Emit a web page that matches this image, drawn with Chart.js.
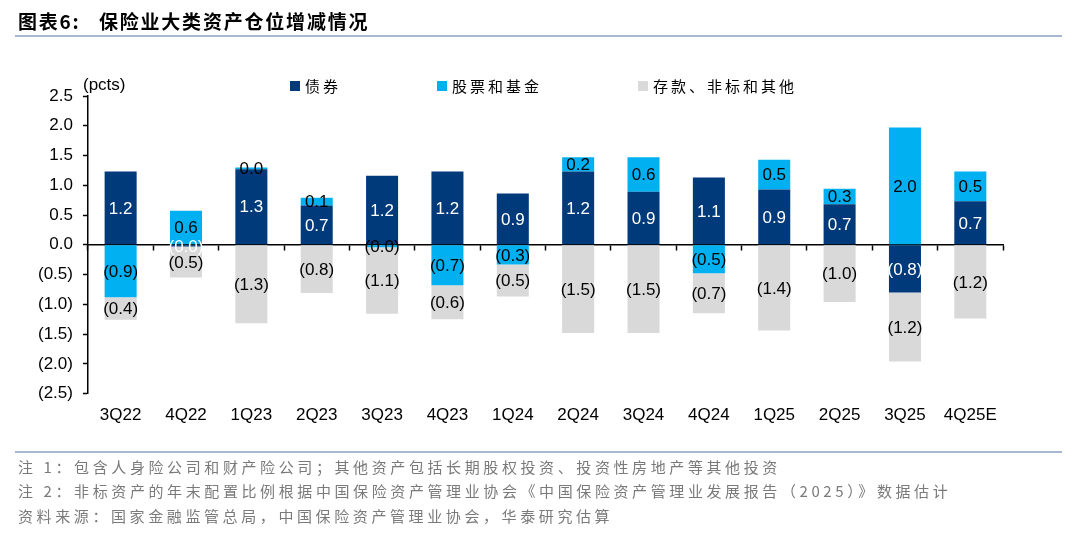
<!DOCTYPE html>
<html lang="zh">

<head>
    <meta charset="UTF-8">
    <title>保险业大类资产仓位增减情况</title>
    <script src="https://cdn.jsdelivr.net/npm/chart.js@4.4.1/dist/chart.umd.min.js"></script>
    <style>
        body {
            margin: 0;
            width: 1080px;
            height: 536px;
            background: #fff;
            position: relative;
            overflow: hidden;
            font-family: "Liberation Sans", Arial, "Noto Sans CJK SC", sans-serif;
        }

        #chartBox {
            position: absolute;
            left: 0;
            top: 0;
            width: 1080px;
            height: 536px;
        }

        .title {
            position: absolute;
            left: 18px;
            top: 7px;
            font-family: "Noto Sans CJK SC", sans-serif;
            font-weight: bold;
            font-size: 19px;
            letter-spacing: 1.8px;
            color: #000;
        }

        .rule {
            position: absolute;
            left: 15px;
            width: 1047px;
            height: 2px;
            background: #a7b9d0;
        }

        .note {
            position: absolute;
            left: 18px;
            font-family: "Noto Sans CJK SC", sans-serif;
            font-size: 15px;
            letter-spacing: 3.6px;
            color: #7a7a7a;
            white-space: nowrap;
        }
    </style>
</head>

<body>
    <div id="chartBox"><canvas id="canvas" width="1080" height="536"></canvas></div>
    <div class="title">图表6:&nbsp;&nbsp;&nbsp;保险业大类资产仓位增减情况</div>
    <div class="rule" style="top:35px"></div>
    <div class="rule" style="top:451px"></div>
    <div class="note" style="top:456px">注 1：包含人身险公司和财产险公司；其他资产包括长期股权投资、投资性房地产等其他投资</div>
    <div class="note" style="top:480px">注 2：非标资产的年末配置比例根据中国保险资产管理业协会《中国保险资产管理业发展报告（2025）》数据估计</div>
    <div class="note" style="top:505px">资料来源：国家金融监管总局，中国保险资产管理业协会，华泰研究估算</div>

    <script>
        // data (pcts)
        const quarters = ['3Q22', '4Q22', '1Q23', '2Q23', '3Q23', '4Q23', '1Q24', '2Q24', '3Q24', '4Q24', '1Q25', '2Q25', '3Q25', '4Q25E'];
        const bonds = [1.23, -0.03, 1.27, 0.66, 1.16, 1.23, 0.86, 1.23, 0.89, 1.13, 0.93, 0.68, -0.80, 0.73];
        const stocks = [-0.88, 0.57, 0.03, 0.13, -0.04, -0.68, -0.33, 0.24, 0.58, -0.48, 0.50, 0.26, 1.97, 0.50];
        const others = [-0.38, -0.52, -1.32, -0.81, -1.12, -0.57, -0.54, -1.48, -1.48, -0.67, -1.44, -0.96, -1.16, -1.24];
        const seriesNames = ['债券', '股票和基金', '存款、非标和其他'];
        const seriesColors = ['#003a7a', '#00b0f0', '#d9d9d9'];
        const labelColors = ['#ffffff', '#000000', '#000000'];

        function fmt(v) {
            return v < 0 ? '(' + Math.abs(v).toFixed(1) + ')' : v.toFixed(1);
        }

        // numbers in the middle of each segment
        const valueLabels = {
            id: 'valueLabels',
            afterDatasetsDraw(chart) {
                const ctx = chart.ctx;
                ctx.save();
                ctx.font = '17px "Liberation Sans", Arial, sans-serif';
                ctx.textAlign = 'center';
                ctx.textBaseline = 'middle';
                chart.data.datasets.forEach((ds, i) => {
                    const meta = chart.getDatasetMeta(i);
                    meta.data.forEach((bar, j) => {
                        const v = ds.data[j];
                        if (v === null || v === undefined) return;
                        ctx.fillStyle = labelColors[i];
                        ctx.fillText(fmt(v), bar.x, (bar.y + bar.base) / 2 + 1);
                    });
                });
                ctx.restore();
            }
        };

        // unit text and the legend row at the top
        const topTexts = {
            id: 'topTexts',
            afterDraw(chart) {
                const ctx = chart.ctx;
                ctx.save();
                ctx.textBaseline = 'middle';
                ctx.fillStyle = '#000';
                ctx.font = '17px "Liberation Sans", Arial, sans-serif';
                ctx.textAlign = 'left';
                ctx.fillText('(pcts)', 83, 85);

                ctx.font = '15px "Noto Sans CJK SC", sans-serif';
                ctx.letterSpacing = '3px';
                let x = 290;
                chart.data.datasets.forEach((ds) => {
                    ctx.fillStyle = ds.backgroundColor;
                    ctx.fillRect(x, 81, 10, 10);
                    ctx.fillStyle = '#000';
                    ctx.fillText(ds.label, x + 15, 86);
                    x += 15 + ctx.measureText(ds.label).width + 96;
                });
                ctx.restore();
            }
        };

        const chart = new Chart(document.getElementById('canvas').getContext('2d'), {
            type: 'bar',
            data: {
                labels: quarters,
                datasets: [bonds, stocks, others].map((d, i) => ({
                    label: seriesNames[i],
                    data: d,
                    backgroundColor: seriesColors[i],
                    borderWidth: 0,
                    categoryPercentage: 1,
                    barPercentage: 0.49,
                    xAxisID: 'x',
                }))
            },
            options: {
                responsive: false,
                animation: false,
                layout: {
                    padding: { left: 28, right: 77, top: 96, bottom: 98 }
                },
                plugins: {
                    legend: { display: false },
                    tooltip: { enabled: false }
                },
                scales: {
                    x: {
                        stacked: true,
                        position: { y: 0 },
                        grid: {
                            drawOnChartArea: false,
                            drawTicks: true,
                            tickLength: 5,
                            tickColor: '#000',
                            tickWidth: 1.5,
                            offset: true
                        },
                        border: { color: '#000', width: 1.5 },
                        ticks: { display: false }
                    },
                    x2: {
                        type: 'category',
                        labels: quarters,
                        position: 'bottom',
                        offset: true,
                        grid: { display: false, drawTicks: false },
                        border: { display: false },
                        ticks: {
                            color: '#000',
                            padding: 12,
                            maxRotation: 0,
                            autoSkip: false,
                            font: { family: '"Liberation Sans", Arial, sans-serif', size: 17 }
                        }
                    },
                    y: {
                        stacked: true,
                        min: -2.5,
                        max: 2.5,
                        grid: {
                            drawOnChartArea: false,
                            drawTicks: true,
                            tickLength: 5,
                            tickColor: '#000',
                            tickWidth: 1.5
                        },
                        border: { color: '#000', width: 1.5 },
                        ticks: {
                            stepSize: 0.5,
                            color: '#000',
                            padding: 10,
                            font: { family: '"Liberation Sans", Arial, sans-serif', size: 17 },
                            callback: (v) => fmt(v)
                        }
                    }
                }
            },
            plugins: [valueLabels, topTexts]
        });
    </script>
</body>

</html>
